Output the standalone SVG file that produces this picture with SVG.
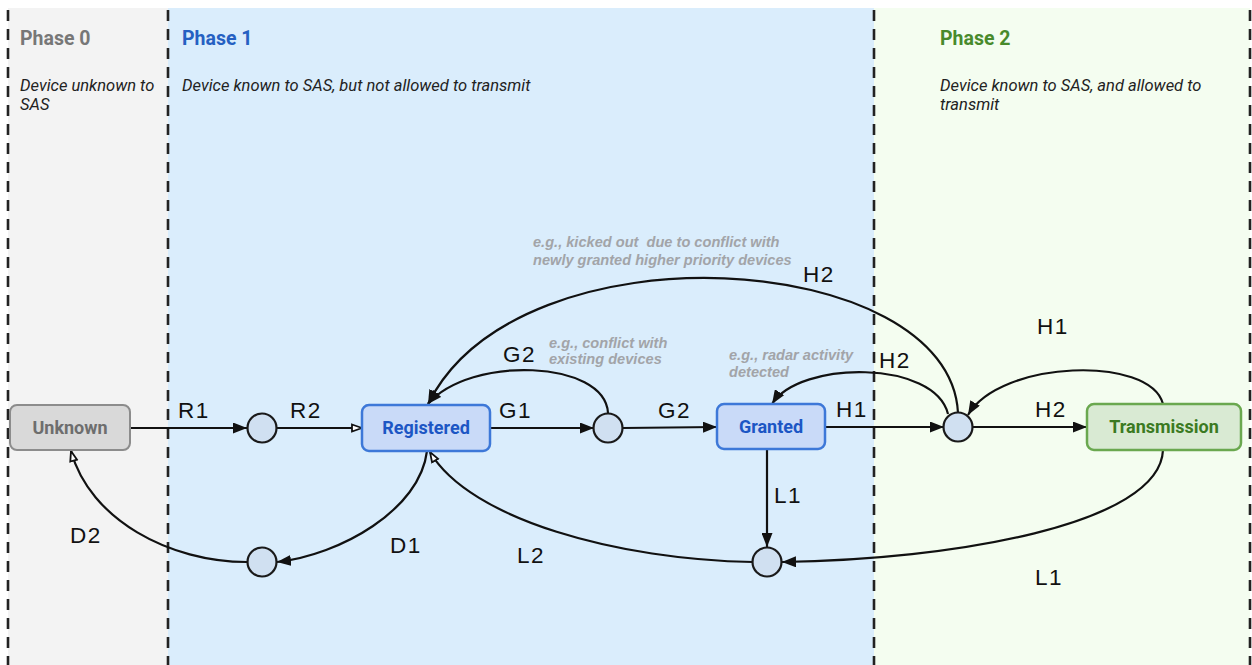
<svg xmlns="http://www.w3.org/2000/svg" width="1252" height="665" viewBox="0 0 1252 665">
<style>
.phase{font-family:Roboto,"Liberation Sans",sans-serif;font-weight:bold;font-size:19.5px}
.desc{font-family:Roboto,"Liberation Sans",sans-serif;font-style:italic;font-size:16.5px;fill:#222}
.ann{font-family:"Liberation Sans",Arial,sans-serif;font-style:italic;font-weight:bold;font-size:14.6px;fill:#a2a4a8;white-space:pre}
.lbl{font-family:"Liberation Sans",Arial,sans-serif;font-size:22.5px;fill:#111;letter-spacing:1.5px}
.ntxt{font-family:Roboto,"Liberation Sans",sans-serif;font-weight:bold;font-size:18px;text-anchor:middle}
.edge{fill:none;stroke:#111;stroke-width:2.2}
.dash{stroke:#222;stroke-width:2.6;stroke-dasharray:11 8}
.pt{fill:#d0e0f1;stroke:#1a1a1a;stroke-width:2.2}
</style>
<defs>
<marker id="af" viewBox="0 0 14 11" refX="14" refY="5.5" markerWidth="14" markerHeight="11" markerUnits="userSpaceOnUse" orient="auto">
<path d="M0,0 L14,5.5 L0,11 z" fill="#111"/>
</marker>
<marker id="ao" viewBox="0 0 12 10" refX="11" refY="5" markerWidth="12" markerHeight="10" markerUnits="userSpaceOnUse" orient="auto">
<path d="M1,1.5 L11,5 L1,8.5 z" fill="#fff" stroke="#111" stroke-width="1.8"/>
</marker>
</defs>
<g id="background">
<rect x="0" y="0" width="1252" height="665" fill="#fff"/>
<rect x="8" y="8" width="160" height="657" fill="#f3f3f3"/>
<rect x="168" y="8" width="706" height="657" fill="#daedfc"/>
<rect x="874" y="8" width="376" height="657" fill="#f4fdf0"/>
<line class="dash" x1="8" y1="10" x2="8" y2="665"/>
<line class="dash" x1="168" y1="10" x2="168" y2="665"/>
<line class="dash" x1="874" y1="10" x2="874" y2="665"/>
<line class="dash" x1="1250" y1="10" x2="1250" y2="665"/>
</g>
<g id="phases">
<text class="phase" x="20" y="45" fill="#777">Phase 0</text>
<text class="desc" x="20" y="91">Device unknown to</text>
<text class="desc" x="20" y="110">SAS</text>
<text class="phase" x="182" y="45" fill="#2560c2">Phase 1</text>
<text class="desc" x="182" y="91">Device known to SAS, but not allowed to transmit</text>
<text class="phase" x="940" y="45" fill="#488a2c">Phase 2</text>
<text class="desc" x="940" y="91">Device known to SAS, and allowed to</text>
<text class="desc" x="940" y="110">transmit</text>
</g>
<g id="connectors">
<path class="edge" d="M130,428 L247,428" marker-end="url(#af)"/>
<path class="edge" d="M277,428 L362,428" marker-end="url(#ao)"/>
<path class="edge" d="M490,428 L594,428" marker-end="url(#af)"/>
<path class="edge" d="M623,428 L717,427" marker-end="url(#af)"/>
<path class="edge" d="M825,427 L944,427" marker-end="url(#af)"/>
<path class="edge" d="M972,427 L1087,427" marker-end="url(#af)"/>
<path class="edge" d="M767,449 L767,547" marker-end="url(#af)"/>
<path class="edge" d="M608,413 C605,360 470,355 428,404" marker-end="url(#af)"/>
<path class="edge" d="M958,413 C950,250 520,220 428,404" marker-end="url(#af)"/>
<path class="edge" d="M948,414 C935,360 800,360 772,404" marker-end="url(#af)"/>
<path class="edge" d="M1163,404 C1150,355 1000,360 968,415" marker-end="url(#af)"/>
<path class="edge" d="M1163,450 C1160,525 950,560 782,562" marker-end="url(#af)"/>
<path class="edge" d="M753,562 C620,560 470,520 430,452" marker-end="url(#ao)"/>
<path class="edge" d="M427,451 C420,510 340,555 277,562" marker-end="url(#af)"/>
<path class="edge" d="M247,562 C170,562 90,520 71,451" marker-end="url(#ao)"/>
<text class="lbl" x="178" y="418">R1</text>
<text class="lbl" x="290" y="418">R2</text>
<text class="lbl" x="499" y="418">G1</text>
<text class="lbl" x="658" y="418">G2</text>
<text class="lbl" x="503" y="362">G2</text>
<text class="lbl" x="836" y="417">H1</text>
<text class="lbl" x="1035" y="417">H2</text>
<text class="lbl" x="879" y="368">H2</text>
<text class="lbl" x="1037" y="334">H1</text>
<text class="lbl" x="803" y="282">H2</text>
<text class="lbl" x="774" y="503">L1</text>
<text class="lbl" x="1035" y="585">L1</text>
<text class="lbl" x="517" y="563">L2</text>
<text class="lbl" x="390" y="553">D1</text>
<text class="lbl" x="70" y="543">D2</text>
<text class="ann" x="533" y="247" xml:space="preserve">e.g., kicked out  due to conflict with</text>
<text class="ann" x="533" y="265">newly granted higher priority devices</text>
<text class="ann" x="549" y="348">e.g., conflict with</text>
<text class="ann" x="549" y="364">existing devices</text>
<text class="ann" x="729" y="360">e.g., radar activity</text>
<text class="ann" x="729" y="377">detected</text>
</g>
<g id="node-unknown">
<rect x="10" y="405" width="120" height="45" rx="7" fill="#d9d9d9" stroke="#8c8c8c" stroke-width="2"/>
<text class="ntxt" x="70" y="434" fill="#6e6e6e">Unknown</text>
</g>
<g id="node-registered">
<rect x="362" y="405" width="128" height="46" rx="7" fill="#c9daf8" stroke="#3d78d8" stroke-width="2.5"/>
<text class="ntxt" x="426" y="434" fill="#1c56c4">Registered</text>
</g>
<g id="node-granted">
<rect x="717" y="404" width="108" height="45" rx="7" fill="#c9daf8" stroke="#3d78d8" stroke-width="2.5"/>
<text class="ntxt" x="771" y="433" fill="#1c56c4">Granted</text>
</g>
<g id="node-transmission">
<rect x="1087" y="404" width="154" height="46" rx="7" fill="#d9ead3" stroke="#6aa84f" stroke-width="2.5"/>
<text class="ntxt" x="1164" y="433" fill="#3b7a22">Transmission</text>
</g>
<g id="point-r"><circle class="pt" cx="262" cy="428" r="14.5"/></g>
<g id="point-g"><circle class="pt" cx="608" cy="428" r="14.5"/></g>
<g id="point-h"><circle class="pt" cx="958" cy="427" r="14.5"/></g>
<g id="point-l"><circle class="pt" cx="767" cy="562" r="14.5"/></g>
<g id="point-d"><circle class="pt" cx="262" cy="562" r="14.5"/></g>
</svg>
